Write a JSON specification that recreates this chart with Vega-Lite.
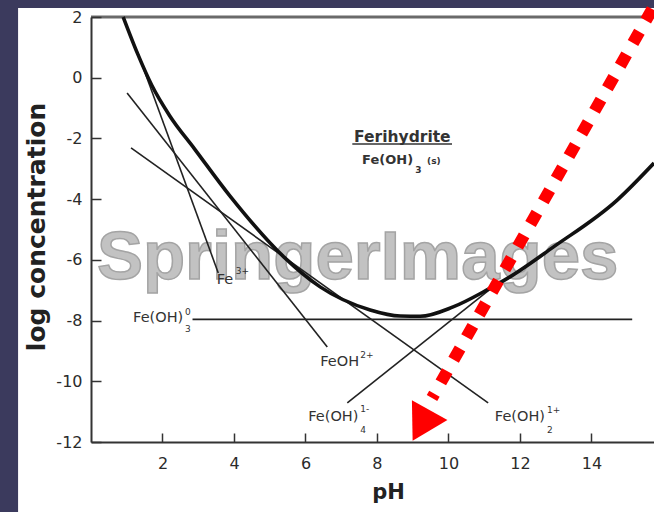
{
  "$schema": "https://vega.github.io/schema/vega-lite/v6.json",
  "width": 563,
  "height": 425,
  "autosize": {"type": "none"},
  "padding": {"left": 91, "top": 17, "right": 0, "bottom": 70},
  "background": "#3b3a5d",
  "config": {"view": {"stroke": null}, "font": "DejaVu Sans"},
  "data": {"values": [{}]},
  "datasets": {
    "total": [
      {"pH": 0.90, "logC": 2.0},
      {"pH": 1.30, "logC": 0.80},
      {"pH": 1.70, "logC": -0.25},
      {"pH": 2.20, "logC": -1.25},
      {"pH": 2.90, "logC": -2.35},
      {"pH": 3.89, "logC": -3.90},
      {"pH": 5.40, "logC": -5.91},
      {"pH": 6.41, "logC": -6.89},
      {"pH": 7.81, "logC": -7.65},
      {"pH": 8.65, "logC": -7.85},
      {"pH": 9.21, "logC": -7.86},
      {"pH": 10.13, "logC": -7.55},
      {"pH": 11.08, "logC": -6.99},
      {"pH": 11.72, "logC": -6.56},
      {"pH": 12.93, "logC": -5.58},
      {"pH": 14.72, "logC": -4.03},
      {"pH": 15.75, "logC": -2.81}
    ],
    "species": [
      {"series": "Fe3+", "pH": 1.30, "logC": 0.85},
      {"series": "Fe3+", "pH": 3.56, "logC": -6.43},
      {"series": "FeOH2+", "pH": 1.01, "logC": -0.50},
      {"series": "FeOH2+", "pH": 6.61, "logC": -8.87},
      {"series": "Fe(OH)2+", "pH": 1.12, "logC": -2.31},
      {"series": "Fe(OH)2+", "pH": 11.11, "logC": -10.71},
      {"series": "Fe(OH)4-", "pH": 7.17, "logC": -10.71},
      {"series": "Fe(OH)4-", "pH": 11.45, "logC": -6.70},
      {"series": "Fe(OH)3", "pH": 2.84, "logC": -7.96},
      {"series": "Fe(OH)3", "pH": 15.14, "logC": -7.96}
    ],
    "labels": [
      {"kind": "main", "text": "Fe(OH)", "pH": 2.58, "logC": -7.91},
      {"kind": "main", "text": "FeOH", "pH": 7.50, "logC": -9.36},
      {"kind": "main", "text": "Fe(OH)", "pH": 7.48, "logC": -11.18},
      {"kind": "main", "text": "Fe(OH)", "pH": 12.70, "logC": -11.18},
      {"kind": "main", "text": "Fe", "pH": 3.98, "logC": -6.66},
      {"kind": "small", "text": "0", "pH": 2.63, "logC": -7.72},
      {"kind": "small", "text": "3", "pH": 2.63, "logC": -8.28},
      {"kind": "small", "text": "2+", "pH": 7.53, "logC": -9.13},
      {"kind": "small", "text": "1-", "pH": 7.53, "logC": -10.91},
      {"kind": "small", "text": "4", "pH": 7.53, "logC": -11.60},
      {"kind": "small", "text": "1+", "pH": 12.76, "logC": -10.94},
      {"kind": "small", "text": "2", "pH": 12.76, "logC": -11.60},
      {"kind": "small", "text": "3+", "pH": 4.05, "logC": -6.38},
      {"kind": "heading", "text": "Ferihydrite", "pH": 8.71, "logC": -1.95},
      {"kind": "formula", "text": "Fe(OH)", "pH": 9.01, "logC": -2.71},
      {"kind": "formulasmall", "text": "3", "pH": 9.07, "logC": -3.04},
      {"kind": "formulasmall", "text": "(s)", "pH": 9.40, "logC": -2.74}
    ]
  },
  "layer": [
    {
      "mark": {"type": "rect", "color": "white", "clip": false},
      "encoding": {
        "x": {"datum": -2.04, "type": "quantitative", "scale": {"domain": [0, 15.75], "nice": false, "zero": false}},
        "x2": {"datum": 17},
        "y": {"datum": 2.3, "type": "quantitative", "scale": {"domain": [-12, 2], "nice": false, "zero": false}},
        "y2": {"datum": -15}
      }
    },
    {
      "mark": {"type": "text", "text": "SpringerImages", "font": "Liberation Sans", "fontWeight": "bold", "fontSize": 69, "color": "#c2c2c2", "stroke": "#a4a4a4", "strokeWidth": 1.5, "align": "center", "baseline": "middle"},
      "encoding": {
        "x": {"datum": 7.46, "type": "quantitative"},
        "y": {"datum": -5.94, "type": "quantitative"}
      }
    },
    {
      "mark": {"type": "rule", "color": "#6a6a6a", "strokeWidth": 3},
      "encoding": {"y": {"datum": 2, "type": "quantitative"}}
    },
    {
      "data": {"name": "species"},
      "mark": {"type": "line", "color": "#222222", "strokeWidth": 1.6},
      "encoding": {
        "x": {"field": "pH", "type": "quantitative"},
        "y": {"field": "logC", "type": "quantitative"},
        "detail": {"field": "series"}
      }
    },
    {
      "data": {"name": "total"},
      "mark": {"type": "line", "color": "#111111", "strokeWidth": 3.6, "interpolate": "monotone"},
      "encoding": {
        "x": {
          "field": "pH", "type": "quantitative", "title": "pH",
          "axis": {
            "values": [2, 4, 6, 8, 10, 12, 14], "grid": false, "zindex": 1,
            "domainColor": "#333333", "domainWidth": 2,
            "tickColor": "#333333", "tickWidth": 1.5, "tickSize": -9,
            "labelFont": "DejaVu Sans", "labelFontSize": 16, "labelColor": "#2b2b2b", "labelPadding": 22, "labelBaseline": "top",
            "titleFont": "DejaVu Sans", "titleFontSize": 21, "titleFontWeight": "bold", "titleColor": "#222222",
            "titleX": 297, "titleY": 56, "titleBaseline": "alphabetic", "titleAlign": "center"
          }
        },
        "y": {
          "field": "logC", "type": "quantitative", "title": "log concentration",
          "axis": {
            "values": [-12, -10, -8, -6, -4, -2, 0, 2], "grid": false, "zindex": 1,
            "labelExpr": "'' + datum.value",
            "domainColor": "#333333", "domainWidth": 2,
            "tickColor": "#333333", "tickWidth": 1.5, "tickSize": -10,
            "labelFont": "DejaVu Sans", "labelFontSize": 16, "labelColor": "#2b2b2b", "labelPadding": 19,
            "titleFont": "DejaVu Sans", "titleFontSize": 25, "titleFontWeight": "bold", "titleColor": "#222222",
            "titleX": -47, "titleY": 209.5, "titleAngle": 270, "titleBaseline": "alphabetic", "titleAlign": "center"
          }
        }
      }
    },
    {
      "data": {"name": "labels"},
      "transform": [{"filter": "datum.kind === 'main'"}],
      "mark": {"type": "text", "align": "right", "baseline": "middle", "fontSize": 14.5, "color": "#333333"},
      "encoding": {
        "x": {"field": "pH", "type": "quantitative"},
        "y": {"field": "logC", "type": "quantitative"},
        "text": {"field": "text"}
      }
    },
    {
      "data": {"name": "labels"},
      "transform": [{"filter": "datum.kind === 'small'"}],
      "mark": {"type": "text", "align": "left", "baseline": "middle", "fontSize": 9, "color": "#333333"},
      "encoding": {
        "x": {"field": "pH", "type": "quantitative"},
        "y": {"field": "logC", "type": "quantitative"},
        "text": {"field": "text"}
      }
    },
    {
      "data": {"name": "labels"},
      "transform": [{"filter": "datum.kind === 'heading'"}],
      "mark": {"type": "text", "align": "center", "baseline": "middle", "fontSize": 15.5, "fontWeight": "bold", "color": "#333333"},
      "encoding": {
        "x": {"field": "pH", "type": "quantitative"},
        "y": {"field": "logC", "type": "quantitative"},
        "text": {"field": "text"}
      }
    },
    {
      "data": {"name": "labels"},
      "transform": [{"filter": "datum.kind === 'formula'"}],
      "mark": {"type": "text", "align": "right", "baseline": "middle", "fontSize": 13, "fontWeight": "bold", "color": "#333333"},
      "encoding": {
        "x": {"field": "pH", "type": "quantitative"},
        "y": {"field": "logC", "type": "quantitative"},
        "text": {"field": "text"}
      }
    },
    {
      "data": {"name": "labels"},
      "transform": [{"filter": "datum.kind === 'formulasmall'"}],
      "mark": {"type": "text", "align": "left", "baseline": "middle", "fontSize": 9, "fontWeight": "bold", "color": "#333333"},
      "encoding": {
        "x": {"field": "pH", "type": "quantitative"},
        "y": {"field": "logC", "type": "quantitative"},
        "text": {"field": "text"}
      }
    },
    {
      "mark": {"type": "rule", "color": "#333333", "strokeWidth": 1.5},
      "encoding": {
        "x": {"datum": 7.31, "type": "quantitative"},
        "x2": {"datum": 10.10},
        "y": {"datum": -2.18, "type": "quantitative"}
      }
    },
    {
      "mark": {"type": "rule", "color": "#ff0000", "strokeWidth": 12, "strokeDash": [13, 13], "strokeCap": "butt", "clip": false},
      "encoding": {
        "x": {"datum": 15.70, "type": "quantitative"},
        "y": {"datum": 2.26, "type": "quantitative"},
        "x2": {"datum": 9.54},
        "y2": {"datum": -10.55}
      }
    },
    {
      "mark": {"type": "point", "shape": "triangle-up", "filled": true, "color": "#ff0000", "opacity": 1, "size": 1650, "angle": 209, "strokeWidth": 0},
      "encoding": {
        "x": {"datum": 9.236, "type": "quantitative"},
        "y": {"datum": -11.455, "type": "quantitative"}
      }
    }
  ]
}
